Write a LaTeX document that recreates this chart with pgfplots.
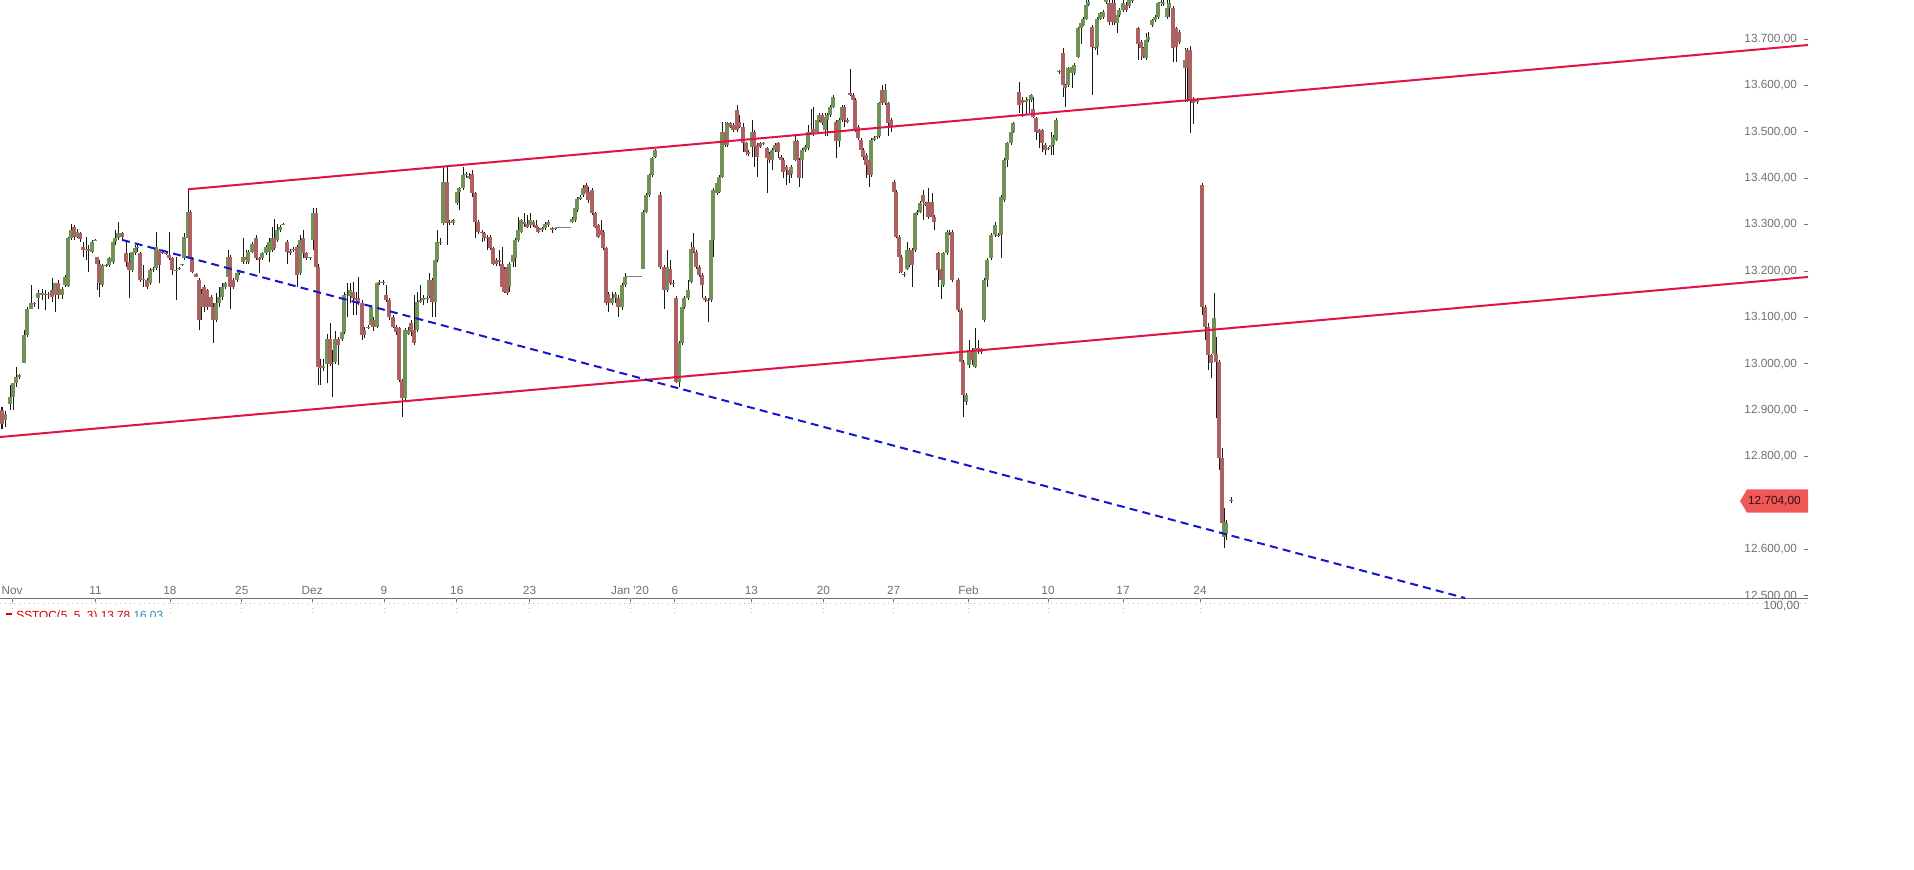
\documentclass[border=0pt]{standalone}
\usepackage{pgfplots}
\pgfplotsset{compat=1.18}
\usepackage{pgfplotstable}
\usepackage{fontspec}
\setmainfont{Liberation Sans}
\definecolor{cgreen}{RGB}{112,146,86}
\definecolor{cred}{RGB}{172,98,98}
\definecolor{tl}{RGB}{228,18,68}
\definecolor{tb}{RGB}{22,22,205}
\definecolor{lbl}{RGB}{112,112,112}
\definecolor{tagc}{RGB}{240,88,88}
\definecolor{tagt}{RGB}{50,12,12}
\definecolor{teal2}{RGB}{40,140,180}

\pgfplotstableread{
x o h l c
2 12900 12906 12860 12871
5 12878 12899 12864 12892
10 12914 12954 12900 12928
13 12929 12958 12900 12958
16 12958 12993 12950 12972
19 12972 12978 12968 12975
24 13001 13072 13001 13062
27 13062 13123 13058 13119
31 13119 13169 13119 13130
34 13130 13134 13122 13128
38 13141 13159 13119 13152
42 13152 13162 13137 13148
45 13148 13159 13116 13150
48 13150 13155 13140 13148
52 13159 13184 13134 13144
55 13148 13173 13112 13173
58 13173 13180 13140 13148
62 13148 13166 13140 13162
65 13169 13191 13166 13187
68 13167 13274 13166 13270
71 13270 13302 13266 13288
74 13295 13299 13266 13274
77 13274 13290 13270 13284
80 13281 13284 13262 13268
83 13252 13263 13231 13245
86 13245 13274 13224 13248
88 13248 13256 13198 13242
92 13241 13266 13238 13263
95 13265 13268 13264 13267
97 13231 13231 13159 13216
99 13216 13223 13144 13173
102 13170 13216 13165 13213
106 13213 13216 13209 13212
109 13213 13231 13209 13227
113 13220 13266 13216 13263
115 13263 13288 13256 13270
118 13270 13306 13266 13281
122 13281 13284 13266 13274
126 13238 13263 13209 13220
129 13220 13238 13141 13202
132 13202 13241 13198 13241
135 13238 13256 13234 13249
137 13249 13256 13241 13252
140 13238 13241 13177 13180
143 13180 13213 13166 13182
147 13180 13184 13162 13166
150 13173 13206 13170 13202
153 13202 13209 13198 13205
156 13206 13284 13202 13252
159 13245 13248 13173 13213
162 13241 13245 13236 13239
166 13238 13241 13234 13236
169 13234 13284 13224 13227
172 13227 13231 13191 13202
176 13202 13231 13137 13200
179 13205 13209 13202 13207
182 13212 13216 13210 13214
184 13227 13281 13223 13274
188 13270 13374 13270 13328
190 13328 13331 13223 13227
192 13227 13231 13195 13198
196 13193 13195 13186 13188
199 13180 13184 13072 13094
201 13123 13160 13094 13150
204 13166 13170 13112 13123
207 13158 13162 13116 13123
211 13144 13148 13119 13123
213 13123 13130 13044 13094
216 13094 13152 13090 13130
219 13130 13166 13123 13144
222 13144 13173 13137 13166
225 13166 13177 13162 13173
228 13188 13245 13180 13231
230 13231 13234 13119 13166
233 13180 13184 13162 13166
237 13180 13198 13177 13195
239 13195 13202 13191 13199
243 13220 13270 13216 13231
246 13231 13245 13216 13224
248 13220 13245 13216 13241
252 13241 13263 13238 13259
256 13270 13277 13223 13227
259 13227 13231 13195 13224
262 13227 13241 13224 13238
266 13238 13256 13234 13252
269 13241 13270 13220 13263
272 13245 13295 13241 13270
274 13270 13313 13245 13249
277 13266 13302 13263 13288
280 13288 13298 13285 13295
283 13300 13304 13298 13302
287 13263 13266 13216 13241
290 13244 13248 13234 13238
293 13245 13252 13241 13248
297 13252 13256 13166 13191
300 13195 13277 13191 13266
303 13270 13288 13227 13238
306 13238 13241 13224 13228
310 13227 13231 13224 13229
313 13266 13335 13245 13324
316 13324 13335 13198 13209
318 13209 13216 12954 12993
320 12997 13010 12955 12990
323 12990 13010 12985 12995
327 13000 13065 12958 13054
330 13054 13087 12995 13000
332 13000 13030 12929 13002
335 13004 13070 13000 13054
338 13054 13058 12997 13040
342 13054 13090 13050 13069
344 13069 13155 13065 13148
347 13148 13173 13101 13151
350 13145 13173 13130 13159
353 13155 13177 13105 13141
356 13141 13155 13105 13137
358 13141 13188 13126 13130
362 13130 13137 13051 13062
364 13072 13080 13055 13062
368 13078 13083 13075 13080
371 13083 13126 13080 13123
373 13094 13101 13070 13080
377 13080 13177 13076 13173
379 13173 13180 13170 13177
383 13177 13180 13170 13175
386 13148 13170 13133 13137
389 13137 13141 13094 13101
393 13101 13105 13076 13080
396 13080 13083 13062 13069
399 13076 13080 12960 12965
402 12965 12968 12886 12926
405 12926 13076 12922 13072
408 13065 13080 13062 13072
411 13087 13094 13060 13069
414 13072 13148 13040 13044
417 13072 13155 13069 13134
420 13134 13170 13130 13137
423 13137 13148 13126 13141
427 13141 13170 13130 13139
429 13145 13195 13141 13180
432 13180 13184 13101 13133
435 13133 13227 13101 13223
437 13223 13288 13219 13263
440 13263 13270 13256 13260
443 13303 13425 13299 13392
447 13392 13425 13256 13303
449 13306 13310 13299 13303
453 13303 13313 13299 13310
457 13346 13374 13342 13371
459 13371 13380 13331 13378
463 13378 13425 13375 13407
466 13407 13414 13400 13410
469 13405 13412 13398 13401
472 13410 13418 13360 13367
475 13367 13371 13270 13306
478 13306 13310 13280 13285
482 13285 13288 13263 13281
484 13281 13285 13265 13270
487 13274 13277 13245 13270
490 13274 13277 13245 13249
493 13249 13252 13213 13216
496 13224 13227 13210 13216
499 13224 13245 13210 13220
502 13216 13252 13162 13166
504 13205 13209 13152 13155
507 13209 13213 13148 13152
509 13166 13220 13155 13216
513 13220 13238 13209 13234
515 13227 13270 13209 13266
518 13266 13317 13263 13288
521 13285 13313 13281 13310
524 13306 13324 13295 13302
527 13302 13320 13292 13295
530 13299 13324 13292 13310
533 13306 13310 13295 13299
536 13299 13310 13288 13292
538 13292 13295 13281 13285
542 13289 13295 13285 13292
545 13292 13306 13288 13302
548 13299 13310 13295 13306
552 13292 13295 13281 13288
555 13291 13294 13289 13293
572 13306 13317 13303 13313
575 13310 13338 13306 13335
577 13331 13360 13328 13356
580 13356 13364 13353 13360
583 13364 13385 13360 13378
586 13385 13389 13360 13367
588 13371 13382 13346 13353
592 13374 13378 13320 13324
595 13324 13328 13292 13295
598 13299 13302 13270 13274
601 13288 13310 13270 13277
603 13285 13288 13245 13249
606 13249 13252 13126 13130
608 13151 13155 13112 13130
612 13130 13155 13126 13141
615 13141 13155 13130 13151
618 13141 13148 13101 13123
622 13123 13173 13116 13169
625 13169 13195 13166 13188
643 13205 13331 13205 13327
646 13327 13367 13324 13364
649 13364 13410 13360 13407
652 13407 13446 13403 13443
655 13446 13462 13443 13460
660 13364 13371 13205 13209
664 13209 13213 13119 13159
667 13159 13245 13155 13209
670 13205 13223 13170 13173
673 13175 13180 13166 13172
676 13141 13145 12958 12961
679 12961 13048 12950 13044
682 13044 13126 13040 13123
684 13123 13145 13119 13141
688 13141 13180 13137 13159
691 13177 13263 13173 13248
693 13252 13281 13238 13241
696 13241 13245 13205 13209
699 13209 13213 13187 13191
702 13191 13195 13141 13169
705 13141 13145 13134 13137
708 13138 13141 13091 13136
711 13137 13270 13134 13266
713 13266 13378 13231 13374
717 13367 13403 13364 13389
719 13371 13407 13367 13403
722 13403 13522 13400 13500
725 13500 13522 13468 13471
727 13471 13522 13468 13518
730 13518 13522 13508 13511
733 13515 13518 13500 13504
737 13547 13557 13500 13504
739 13522 13536 13508 13511
743 13511 13518 13457 13475
746 13475 13478 13450 13457
748 13457 13460 13447 13452
752 13468 13525 13446 13500
754 13500 13504 13425 13468
757 13471 13475 13403 13446
760 13475 13478 13464 13468
763 13475 13478 13472 13476
767 13464 13468 13367 13443
769 13453 13457 13432 13439
772 13439 13464 13418 13460
775 13460 13475 13457 13471
778 13475 13478 13443 13457
781 13446 13450 13421 13439
783 13439 13443 13400 13414
786 13425 13428 13385 13418
789 13418 13421 13389 13407
791 13410 13428 13400 13425
795 13439 13493 13436 13479
797 13479 13482 13432 13439
799 13439 13443 13382 13400
802 13439 13464 13400 13460
805 13460 13471 13457 13468
808 13464 13515 13460 13500
811 13500 13550 13493 13497
813 13507 13554 13490 13496
817 13500 13529 13497 13525
819 13525 13540 13520 13536
822 13536 13540 13515 13518
825 13504 13540 13490 13532
827 13525 13540 13490 13536
830 13536 13558 13532 13554
833 13554 13579 13551 13575
836 13521 13525 13443 13479
839 13479 13529 13468 13525
842 13525 13558 13521 13554
844 13554 13558 13511 13525
847 13525 13529 13518 13521
850 13583 13635 13577 13580
853 13580 13583 13565 13568
855 13568 13572 13500 13504
858 13511 13515 13482 13486
861 13482 13486 13454 13460
863 13460 13464 13439 13446
866 13450 13454 13400 13428
869 13439 13443 13382 13407
871 13407 13486 13403 13482
874 13483 13490 13480 13486
877 13488 13493 13485 13490
879 13490 13565 13487 13561
882 13590 13601 13558 13561
885 13561 13604 13558 13590
888 13561 13565 13490 13518
891 13525 13529 13500 13511
894 13392 13396 13364 13371
896 13371 13374 13270 13274
899 13274 13277 13195 13230
901 13230 13234 13195 13198
904 13194 13198 13187 13191
907 13205 13263 13202 13245
909 13213 13249 13209 13245
912 13245 13249 13166 13213
915 13245 13328 13241 13324
917 13324 13331 13320 13328
920 13328 13350 13324 13346
923 13364 13374 13310 13349
925 13346 13349 13340 13343
928 13349 13378 13313 13317
932 13349 13367 13313 13317
934 13317 13320 13288 13306
938 13238 13241 13166 13202
941 13205 13209 13140 13180
943 13170 13241 13166 13238
947 13238 13288 13234 13284
949 13281 13288 13278 13283
952 13284 13288 13177 13180
958 13180 13184 13112 13116
961 13116 13120 13000 13004
963 13004 13008 12886 12932
966 12917 12936 12911 12932
969 12997 13051 12990 13029
972 13029 13033 12997 13008
975 12993 13076 12990 13033
978 13033 13051 13020 13029
981 13029 13033 13022 13026
984 13094 13184 13090 13180
987 13180 13227 13166 13223
991 13227 13281 13223 13277
995 13277 13306 13274 13299
998 13278 13281 13274 13277
1001 13277 13364 13227 13360
1004 13353 13443 13349 13439
1007 13439 13478 13425 13475
1011 13475 13504 13471 13500
1013 13500 13522 13497 13518
1019 13586 13608 13540 13558
1022 13568 13575 13532 13561
1026 13565 13575 13536 13568
1029 13568 13575 13540 13570
1031 13568 13582 13565 13579
1033 13550 13575 13529 13532
1036 13529 13532 13482 13500
1039 13504 13507 13464 13497
1042 13504 13507 13457 13475
1045 13471 13475 13450 13461
1048 13464 13468 13461 13466
1051 13468 13500 13450 13471
1053 13471 13493 13450 13489
1056 13482 13529 13479 13525
1059 13630 13633 13625 13632
1063 13669 13680 13575 13601
1065 13601 13604 13554 13594
1068 13601 13640 13597 13637
1072 13626 13644 13594 13640
1074 13626 13648 13622 13644
1078 13662 13726 13658 13723
1081 13723 13737 13690 13734
1083 13730 13748 13727 13744
1086 13744 13784 13740 13773
1088 13773 13790 13770 13780
1092 13726 13730 13579 13683
1095 13683 13687 13676 13680
1097 13683 13748 13665 13744
1100 13744 13758 13740 13755
1103 13748 13762 13744 13758
1106 13780 13795 13776 13784
1109 13777 13790 13730 13737
1112 13777 13790 13730 13737
1114 13777 13784 13730 13737
1117 13734 13755 13712 13752
1119 13752 13766 13748 13762
1123 13762 13785 13758 13777
1126 13773 13780 13758 13762
1129 13770 13790 13766 13784
1132 13781 13795 13778 13784
1138 13723 13726 13655 13690
1141 13694 13698 13655 13680
1143 13680 13683 13658 13662
1146 13658 13712 13655 13698
1148 13698 13716 13694 13705
1152 13730 13744 13726 13741
1155 13741 13752 13737 13748
1158 13748 13780 13744 13777
1161 13777 13795 13770 13780
1163 13777 13784 13770 13778
1167 13748 13795 13744 13766
1169 13766 13790 13748 13777
1173 13766 13770 13651 13680
1176 13723 13726 13651 13683
1179 13716 13719 13690 13694
1185 13637 13680 13565 13655
1187 13676 13680 13565 13637
1190 13676 13684 13497 13568
1193 13570 13574 13517 13561
1197 13565 13572 13560 13568
1202 13385 13389 13105 13123
1205 13123 13127 13051 13080
1208 13080 13087 12986 13019
1211 13019 13022 12969 13001
1214 13022 13153 13019 13098
1216 13022 13058 12882 13004
1219 13004 13008 12771 12796
1222 12796 12818 12648 12656
1224 12627 12688 12602 12659
1226 12634 12663 12620 12656
1231 12706 12713 12699 12704
}\candles

\begin{document}
\begin{tikzpicture}
\path[use as bounding box] (0pt,0pt) rectangle (957pt,434.5pt);
\begin{axis}[
  at={(0pt,135.5pt)}, anchor=south west,
  scale only axis, width=904pt, height=299pt,
  xmin=0, xmax=1808, ymin=12495, ymax=13784,
  axis x line*=bottom, axis y line*=right,
  x axis line style={draw=lbl, line width=0.5pt, -},
  y axis line style={draw=none},
  xtick={12,95.6,169.9,241.8,312.2,384,456.8,529.5,630,674.8,751.3,823.3,893.6,968.6,1048,1123,1200},
  xticklabels={Nov,11,18,25,Dez,9,16,23,{Jan \textquotesingle20},6,13,20,27,Feb,10,17,24},
  ytick={12500,12600,12800,12900,13000,13100,13200,13300,13400,13500,13600,13700},
  yticklabels={{12.500,00},{12.600,00},{12.800,00},{12.900,00},{13.000,00},{13.100,00},{13.200,00},{13.300,00},{13.400,00},{13.500,00},{13.600,00},{13.700,00}},
  tick label style={font=\fontsize{5.9}{6.5}\selectfont, text=lbl},
  xticklabel style={anchor=south, yshift=0pt},
  yticklabel style={anchor=east, xshift=-2pt},
  tick style={draw=lbl, line width=0.4pt},
  xtick align=outside, ytick align=inside,
  major tick length=2pt,
]
% wicks
\addplot[draw=none, mark=none, forget plot,
  error bars/.cd, y dir=plus, y explicit, error mark=none,
  error bar style={draw=black!90, line width=0.5pt, solid}]
  table[x=x, y=l, y error expr=\thisrow{h}-\thisrow{l}] {\candles};
% rising bodies
\addplot[draw=none, mark=none, forget plot,
  restrict expr to domain={\thisrow{c}-\thisrow{o}}{0.5:100000},
  error bars/.cd, y dir=plus, y explicit, error mark=none,
  error bar style={draw=cgreen, line width=1.6pt, solid}]
  table[x=x, y=o, y error expr=\thisrow{c}-\thisrow{o}] {\candles};
% falling bodies
\addplot[draw=none, mark=none, forget plot,
  restrict expr to domain={\thisrow{o}-\thisrow{c}}{0.5:100000},
  error bars/.cd, y dir=plus, y explicit, error mark=none,
  error bar style={draw=cred, line width=1.6pt, solid}]
  table[x=x, y=c, y error expr=\thisrow{o}-\thisrow{c}] {\candles};
% flat holiday segments
\addplot[gray, line width=0.5pt, forget plot] coordinates {(555,13294) (571,13294)};
\addplot[gray, line width=0.5pt, forget plot] coordinates {(626,13187) (642,13187)};
% trend channel
\addplot[tl, line width=1pt, forget plot] coordinates {(188,13376) (1808,13687)};
\addplot[tl, line width=1pt, forget plot] coordinates {(0,12842) (1808,13187)};
\addplot[tb, line width=1pt, dash pattern=on 4pt off 2.6pt, forget plot] coordinates {(122,13267) (1465,12495)};
% last price tag
\fill[tagc] (axis cs:1740,12704) -- (axis cs:1747,12729) -- (axis cs:1808,12729) -- (axis cs:1808,12679) -- (axis cs:1747,12679) -- cycle;
\node[font=\fontsize{5.9}{6.5}\selectfont, text=tagt, anchor=east, inner sep=0pt] at (axis cs:1801,12704) {12.704,00};
\end{axis}
% oscillator strip
\begin{scope}
\clip (0pt,126.5pt) rectangle (957pt,135.5pt);
\draw[lbl!50, line width=0.4pt, dotted] (0pt,133pt) -- (904pt,133pt);
\foreach \xx in {12,95.6,169.9,241.8,312.2,384,456.8,529.5,630,674.8,751.3,823.3,893.6,968.6,1048,1123,1200}
  {\draw[lbl!40, line width=0.4pt, dotted] (\xx*0.5pt,135.5pt) -- (\xx*0.5pt,126.5pt);}
\node[font=\fontsize{5.9}{6.5}\selectfont, text=lbl, anchor=base east, inner sep=0pt] at (900pt,129.8pt) {100,00};
\fill[red!85!black] (3pt,126.8pt) rectangle (6pt,128pt);
\node[font=\fontsize{5.9}{6.5}\selectfont, anchor=base west, inner sep=0pt] at (8pt,124.8pt) {\textcolor{red!85!black}{SSTOC(5, 5, 3) 13,78}\ \textcolor{teal2}{16,03}};
\end{scope}
\end{tikzpicture}
\end{document}
